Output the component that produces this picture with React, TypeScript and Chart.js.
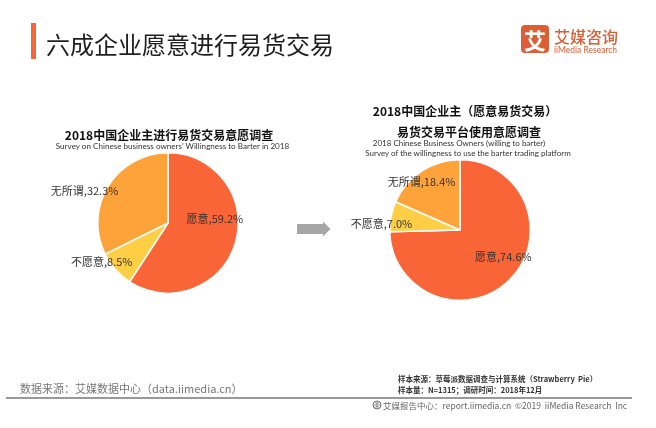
import React, { useEffect, useRef } from "react";
import { Chart, registerables } from "chart.js";

Chart.register(...registerables);

// ---- data ----
const categories = ["愿意", "不愿意", "无所谓"];
const willingnessValues = [59.2, 8.5, 32.3];
const platformValues = [74.6, 7.0, 18.4];
const sliceColors = ["#F96537", "#FECF45", "#FDA33A"];

const leftTitle = "2018中国企业主进行易货交易意愿调查";
const leftSubtitle = "Survey on Chinese business owners’ Willingness to Barter  in 2018";
const rightTitle1 = "2018中国企业主（愿意易货交易）";
const rightTitle2 = "易货交易平台使用意愿调查";
const rightSub1 = "2018 Chinese Business Owners (willing to barter)";
const rightSub2 = "Survey of the willingness to use the barter trading platform";

const CJK = '"Noto Sans CJK SC", "Noto Sans", sans-serif';
const LAT = 'Lato, "Noto Sans", sans-serif';

type PieProps = {
  values: number[];
  left: number;
  top: number;
  width: number;
  height: number;
  padding: { left: number; right: number; top: number; bottom: number };
  labelRadius: number[];
  labelShift: number[];
};

function PieChart(p: PieProps) {
  const ref = useRef<HTMLCanvasElement | null>(null);
  useEffect(() => {
    if (!ref.current) return;
    const labelPlugin = {
      id: "sliceLabels",
      afterDatasetsDraw(chart: any) {
        const ctx = chart.ctx;
        const meta = chart.getDatasetMeta(0);
        ctx.save();
        ctx.font = `11px ${CJK}`;
        ctx.fillStyle = "#333333";
        ctx.textAlign = "center";
        ctx.textBaseline = "middle";
        meta.data.forEach((arc: any, i: number) => {
          const { x, y, startAngle, endAngle, outerRadius } = arc.getProps(
            ["x", "y", "startAngle", "endAngle", "outerRadius"],
            true
          );
          const mid = (startAngle + endAngle) / 2 + (p.labelShift[i] * Math.PI) / 180;
          const r = outerRadius * p.labelRadius[i];
          const v = chart.data.datasets[0].data[i] as number;
          const text = `${chart.data.labels[i]},${v.toFixed(1)}%`;
          ctx.fillText(text, x + r * Math.cos(mid), y + r * Math.sin(mid));
        });
        ctx.restore();
      },
    };
    const chart = new Chart(ref.current, {
      type: "pie",
      data: {
        labels: categories,
        datasets: [
          {
            data: p.values,
            backgroundColor: sliceColors,
            borderColor: "#ffffff",
            borderWidth: 1.5,
          },
        ],
      },
      options: {
        animation: false,
        responsive: false,
        maintainAspectRatio: false,
        events: [],
        layout: { padding: p.padding },
        plugins: {
          legend: { display: false },
          tooltip: { enabled: false },
          title: { display: false },
        },
      },
      plugins: [labelPlugin],
    } as any);
    return () => chart.destroy();
  }, []);
  return (
    <canvas
      ref={ref}
      width={p.width}
      height={p.height}
      style={{
        position: "absolute",
        left: p.left,
        top: p.top,
        width: p.width,
        height: p.height,
      }}
    />
  );
}

function T(props: {
  x: number;
  y: number;
  size: number;
  color?: string;
  weight?: number | string;
  font?: string;
  align?: "center" | "left";
  children: React.ReactNode;
}) {
  const { x, y, size, color = "#222", weight = 400, font = CJK, align = "center" } = props;
  return (
    <div
      style={{
        position: "absolute",
        left: x,
        top: y,
        transform: align === "center" ? "translate(-50%, -50%)" : "translate(0, -50%)",
        whiteSpace: "nowrap",
        lineHeight: 1,
        fontSize: size,
        fontFamily: font,
        fontWeight: weight as any,
        color,
        zIndex: 2,
      }}
    >
      {props.children}
    </div>
  );
}

export default function App() {
  useEffect(() => {
    document.body.style.margin = "0";
  }, []);
  return (
    <div
      style={{
        position: "absolute",
        left: 0,
        top: 0,
        width: 656,
        height: 428,
        background: "#ffffff",
        overflow: "hidden",
      }}
    >
      {/* header */}
      <div style={{ position: "absolute", left: 31, top: 23, width: 5, height: 36, background: "#F9643A" }} />
      <T x={46} y={43.5} size={24} color="#1e1e1e" align="left">
        六成企业愿意进行易货交易
      </T>
      {/* logo */}
      <div
        style={{
          position: "absolute",
          left: 521,
          top: 25,
          width: 28,
          height: 28,
          borderRadius: 4,
          background: "#DB5E37",
          color: "#fff",
          fontFamily: CJK,
          fontWeight: 700,
          fontSize: 22,
          lineHeight: "28px",
          textAlign: "center",
        }}
      >
        艾
      </div>
      <T x={554} y={35.5} size={16} color="#DB5E37" weight={500} align="left">
        艾媒咨询
      </T>
      <T x={554} y={49.5} size={8.5} color="#DB5E37" font={LAT} align="left">
        iiMedia Research
      </T>

      {/* left chart titles */}
      <T x={169} y={134.7} size={12} weight={700} color="#111">
        {leftTitle}
      </T>
      <T x={172.5} y={145.5} size={8.1} font={LAT} color="#333">
        {leftSubtitle}
      </T>

      {/* right chart titles */}
      <T x={465} y={110.7} size={12} weight={700} color="#111">
        {rightTitle1}
      </T>
      <T x={469} y={131.7} size={12} weight={700} color="#111">
        {rightTitle2}
      </T>
      <T x={459} y={143.3} size={8} font={LAT} color="#333">
        {rightSub1}
      </T>
      <T x={468} y={153.3} size={8} font={LAT} color="#333">
        {rightSub2}
      </T>

      <PieChart
        values={willingnessValues}
        left={20}
        top={122}
        width={300}
        height={200}
        padding={{ left: 77, right: 81, top: 30, bottom: 28 }}
        labelRadius={[0.67, 1.095, 1.27]}
        labelShift={[-22, 11, -11]}
      />
      <PieChart
        values={platformValues}
        left={330}
        top={130}
        width={300}
        height={200}
        padding={{ left: 59, right: 99, top: 29, bottom: 29 }}
        labelRadius={[0.725, 1.12, 0.88]}
        labelShift={[-12.6, -7, -5.3]}
      />

      {/* arrow */}
      <svg
        width={656}
        height={428}
        style={{ position: "absolute", left: 0, top: 0, zIndex: 1 }}
      >
        <polygon points="297,224 323,224 323,221.5 330.5,229 323,236.5 323,234 297,234" fill="#A6A6A6" />
      </svg>

      {/* footer */}
      <T x={20} y={388} size={11} color="#777" align="left">
        数据来源：艾媒数据中心（data.iimedia.cn）
      </T>
      <T x={398} y={379} size={7.5} color="#333" weight={700} align="left">
        样本来源：草莓派数据调查与计算系统（Strawberry&nbsp;&nbsp;Pie）
      </T>
      <T x={398} y={390} size={7.5} color="#333" weight={700} align="left">
        样本量：N=1315；调研时间：2018年12月
      </T>
      <div style={{ position: "absolute", left: 6, top: 397, width: 626, height: 1.5, background: "#999" }} />
      <svg width={10} height={10} style={{ position: "absolute", left: 372, top: 400 }}>
        <circle cx={5} cy={5} r={4} fill="none" stroke="#777" strokeWidth={1} />
        <path d="M1 5 H9 M5 1 V9 M2.5 2.5 Q5 5 7.5 2.5 M2.5 7.5 Q5 5 7.5 7.5" stroke="#777" strokeWidth={0.7} fill="none" />
      </svg>
      <T x={383} y={405} size={8.5} color="#666" align="left">
        艾媒报告中心：report.iimedia.cn&nbsp;&nbsp;©2019&nbsp;&nbsp;iiMedia Research&nbsp;&nbsp;Inc
      </T>
    </div>
  );
}
